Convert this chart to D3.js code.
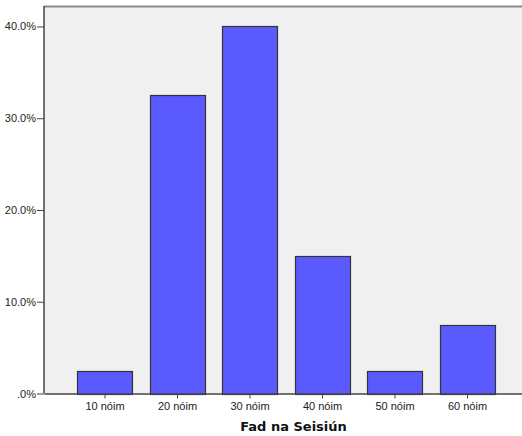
<!DOCTYPE html>
<html><head><meta charset="utf-8">
<script src="https://cdn.jsdelivr.net/npm/d3@7"></script>
<style>body{margin:0;background:#fff}svg{display:block}</style>
</head><body>
<svg id="c" width="522" height="436"></svg>
<script>
const categories = ["10 nóim","20 nóim","30 nóim","40 nóim","50 nóim","60 nóim"];
const percents = [2.5, 32.5, 40.0, 15.0, 2.5, 7.5];
const yTicks = [0, 10, 20, 30, 40];
const xTitle = "Fad na Seisiún";

const svg = d3.select("#c");
const L = 44, R = 528.5, T = 6, B = 393.5;
const x = d3.scaleBand().domain(categories).range([L, R]).paddingInner(0.241).paddingOuter(0.462);
const y = d3.scaleLinear().domain([0, 42.23]).range([B, T]);

svg.append("rect").attr("x", L).attr("y", T).attr("width", R - L).attr("height", B - T)
  .attr("fill", "#f0f0f0");
svg.append("line").attr("x1", L).attr("x2", R).attr("y1", T + 0.5).attr("y2", T + 0.5)
  .attr("stroke", "#8a8a8a").attr("stroke-width", 2);

svg.append("g").selectAll("rect").data(percents).join("rect")
  .attr("x", (d, i) => Math.round(x(categories[i])) + 0.5)
  .attr("width", Math.round(x.bandwidth()))
  .attr("y", d => Math.round(y(d)) + 0.5)
  .attr("height", d => Math.round(B) - Math.round(y(d)))
  .attr("fill", "#5a5aff").attr("stroke", "#333").attr("stroke-width", 1.2);

const fmt = d => d === 0 ? ".0%" : d.toFixed(1) + "%";
const ya = svg.append("g").attr("transform", `translate(${L},0)`)
  .call(d3.axisLeft(y).tickValues(yTicks).tickFormat(fmt).tickSize(7).tickPadding(1).tickSizeOuter(0));
const xa = svg.append("g").attr("transform", `translate(0,${B})`)
  .call(d3.axisBottom(x).tickSize(5).tickPadding(4).tickSizeOuter(0));
[ya, xa].forEach(g => {
  g.select(".domain").attr("stroke", "#444").attr("stroke-width", 1.5);
  g.selectAll(".tick line").attr("stroke", "#444");
  g.selectAll("text").attr("font-family", "'Liberation Sans', Arial, sans-serif")
    .attr("font-size", 11).attr("fill", "#222");
});
ya.select(".domain").attr("d", `M0,${B}V${T}`);

svg.append("text").attr("x", 293.5).attr("y", 431).attr("text-anchor", "middle")
  .attr("font-family", "'DejaVu Sans', sans-serif").attr("font-weight", "bold")
  .attr("font-size", 13).attr("fill", "#111").text(xTitle);
</script>
</body></html>
